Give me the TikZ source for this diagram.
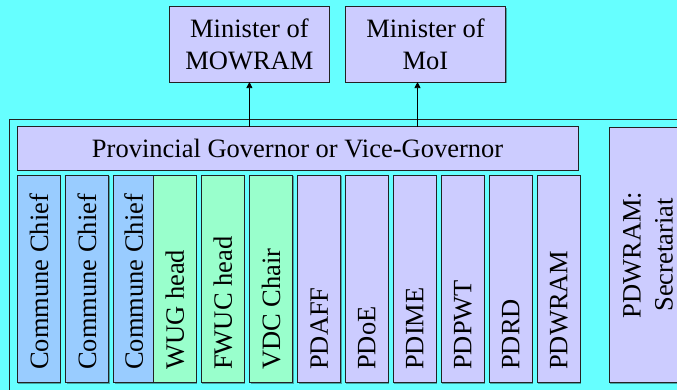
\documentclass[tikz,border=0pt]{standalone}
\usepackage{fontspec}
\setmainfont{Liberation Serif}
\usetikzlibrary{arrows.meta,shadows,calc}
\definecolor{bgcyan}{HTML}{66FFFF}
\definecolor{lav}{HTML}{CCCCFF}
\definecolor{lblue}{HTML}{99CCFF}
\definecolor{lgreen}{HTML}{99FFCC}
\definecolor{edge}{HTML}{222222}
\begin{document}
\begin{tikzpicture}[x=1pt,y=1pt,
  font=\fontsize{26.5}{31.8}\selectfont,
  box/.style={draw=edge, line width=0.8pt, inner sep=0pt, outer sep=0pt,
    drop shadow={shadow xshift=1pt, shadow yshift=-1pt, fill=black, opacity=0.35}},
  colbox/.style={box, minimum width=43pt, minimum height=207.4pt},
  vtext/.style={rotate=90, anchor=west, inner sep=0pt},
  arr/.style={-{Triangle[width=6pt,length=6pt]}, line width=0.7pt, draw=black}
]
\useasboundingbox (0,0) rectangle (677,390);
\fill[bgcyan] (0,0) rectangle (677,390);
\clip (0,0) rectangle (677,390);

% outer frame
\node[draw=edge, line width=0.8pt, minimum width=720pt, minimum height=300pt, inner sep=0pt, anchor=north west] (frame) at (9.3,271.2) {};

% ministers
\node[box, fill=lav, minimum width=160pt, minimum height=75.3pt, align=center] (mow) at (249.4,345.6) {Minister of\\MOWRAM};
\node[box, fill=lav, minimum width=160pt, minimum height=75.3pt, align=center] (moi) at (425.5,345.6) {Minister of\\MoI};

% provincial governor
\node[box, fill=lav, minimum width=560.7pt, minimum height=43.3pt] (prov) at (297.6,241.6) {Provincial Governor or Vice-Governor};

% columns
\node[colbox, fill=lblue] (c1) at (38.8,111) {};
\node[colbox, fill=lblue] (c2) at (87,111) {};
\node[colbox, fill=lblue, minimum width=40pt] (c3) at (133.7,111) {};
\node[colbox, fill=lgreen, minimum width=42.6pt] (c4) at (175,111) {};
\node[colbox, fill=lgreen] (c5) at (222.8,111) {};
\node[colbox, fill=lgreen] (c6) at (271.2,111) {};
\node[colbox, fill=lav] (c7) at (319.2,111) {};
\node[colbox, fill=lav] (c8) at (366.8,111) {};
\node[colbox, fill=lav] (c9) at (414.8,111) {};
\node[colbox, fill=lav] (c10) at (462.8,111) {};
\node[colbox, fill=lav] (c11) at (510.8,111) {};
\node[colbox, fill=lav] (c12) at (558.8,111) {};

\node[vtext] (t1) at ([yshift=12.7pt]c1.south) {Commune Chief};
\node[vtext] (t2) at ([yshift=12.7pt]c2.south) {Commune Chief};
\node[vtext] (t3) at ([yshift=12.7pt]c3.south) {Commune Chief};
\node[vtext] (t4) at ([yshift=12.7pt]c4.south) {WUG head};
\node[vtext] (t5) at ([yshift=12.7pt]c5.south) {FWUC head};
\node[vtext] (t6) at ([yshift=12.7pt]c6.south) {VDC Chair};
\node[vtext] (t7) at ([yshift=12.7pt]c7.south) {PDAFF};
\node[vtext] (t8) at ([yshift=12.7pt]c8.south) {PDoE};
\node[vtext] (t9) at ([yshift=12.7pt]c9.south) {PDIME};
\node[vtext] (t10) at ([yshift=12.7pt]c10.south) {PDPWT};
\node[vtext] (t11) at ([yshift=12.7pt]c11.south) {PDRD};
\node[vtext] (t12) at ([yshift=12.7pt]c12.south) {PDWRAM};

% secretariat
\node[box, fill=lav, minimum width=77.4pt, minimum height=255.4pt] (sec) at (648,135) {};
\node[rotate=90, align=center, inner sep=0pt] (sect) at (sec.center) {PDWRAM:\\Secretariat};

% arrows
\coordinate (m2) at ([xshift=-8pt]moi.south);
\draw[arr] (prov.north -| mow.south) -- (mow.south);
\draw[arr] (prov.north -| m2) -- (m2);
\end{tikzpicture}
\end{document}
